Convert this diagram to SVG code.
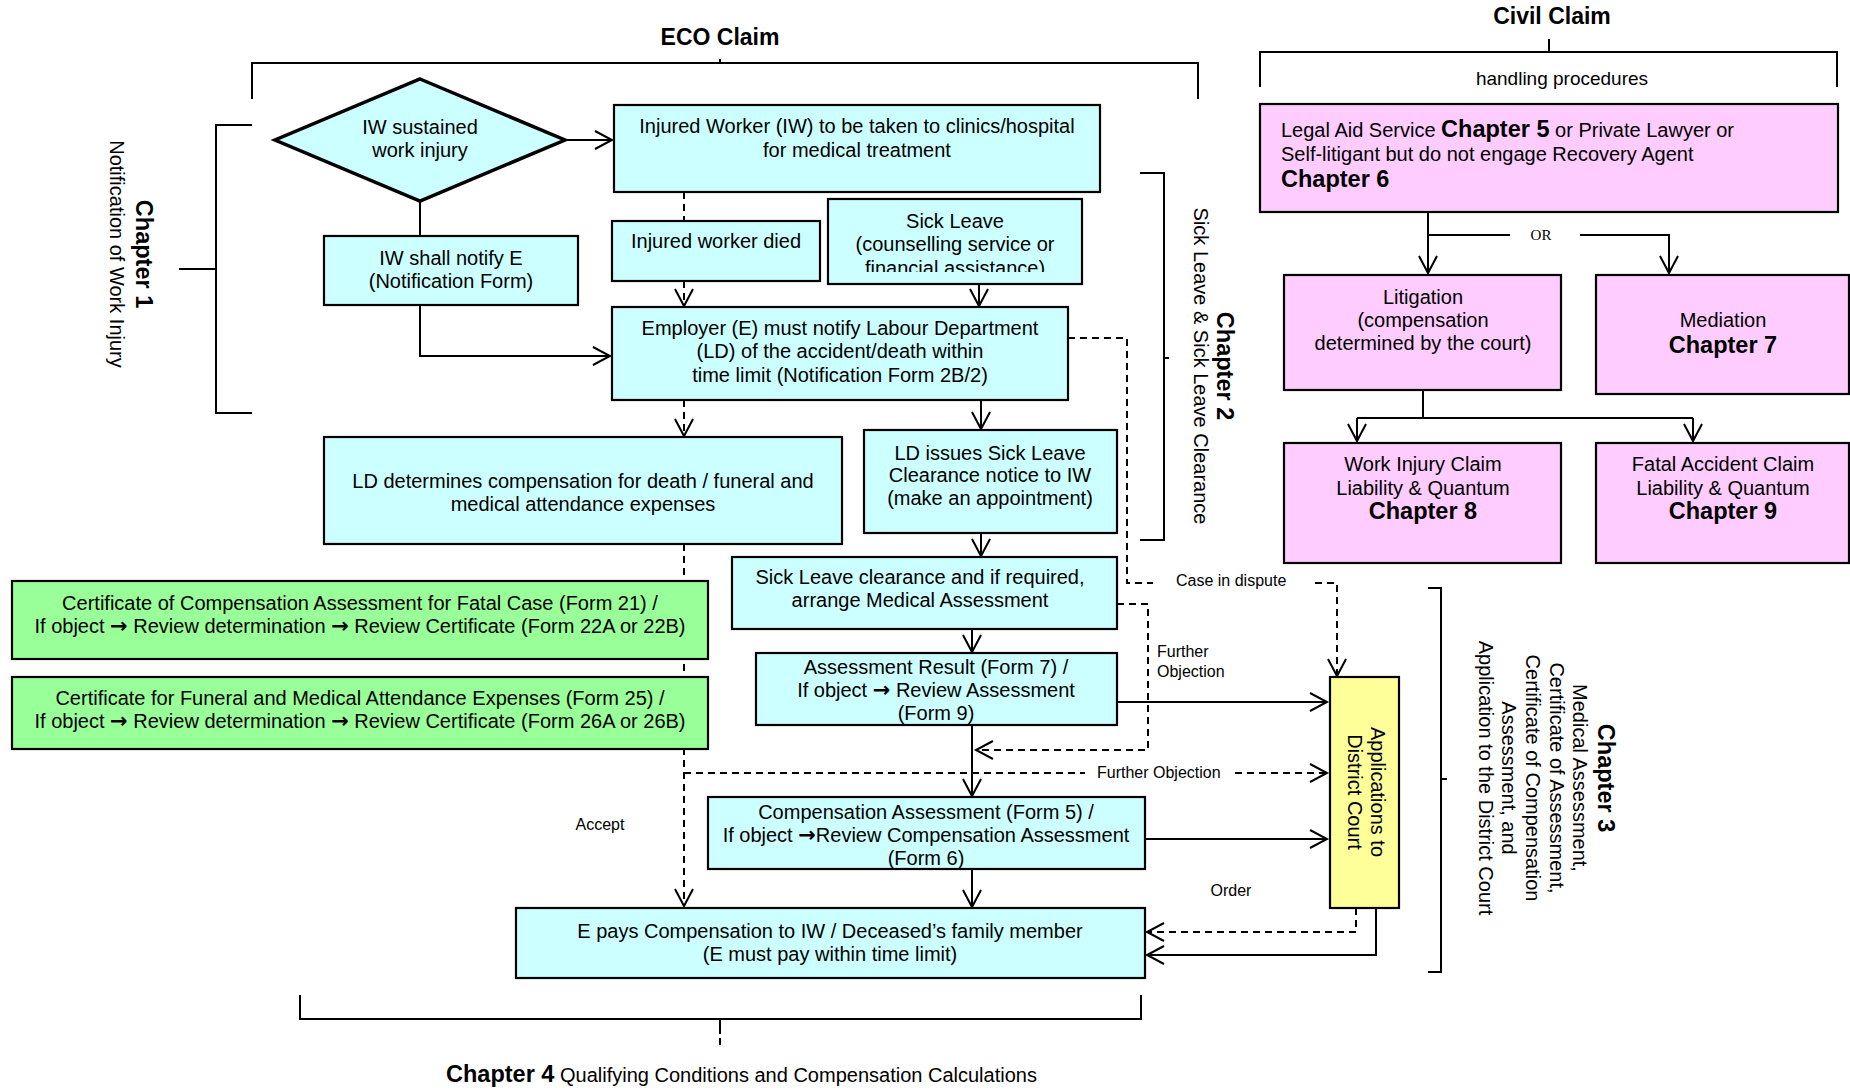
<svg xmlns="http://www.w3.org/2000/svg" width="1850" height="1090" viewBox="0 0 1850 1090">
<defs>
<style>
text{font-family:"Liberation Sans",Arial,sans-serif;font-size:20px;fill:#000}
.c{text-anchor:middle}
.b{font-weight:bold;font-size:23.5px}
.s{font-size:16px}
.ar{font-family:"DejaVu Sans",sans-serif;font-size:21px;font-weight:bold}
.or{font-family:"Liberation Serif","Times New Roman",serif;font-size:15px;text-anchor:middle}
.box{stroke:#000;stroke-width:2.2}
.cy{fill:#CCFFFF}
.gr{fill:#99FF99}
.pk{fill:#FFCCFF}
.ye{fill:#FFFF99}
.ln{fill:none;stroke:#000;stroke-width:2}
.da{stroke-dasharray:7,5}
.a{marker-end:url(#ah)}
</style>
<marker id="ah" markerUnits="userSpaceOnUse" markerWidth="24" markerHeight="24" viewBox="-20 -12 24 24" refX="0" refY="0" orient="auto">
<path d="M-17,-9 L0,0 L-17,9" fill="none" stroke="#000" stroke-width="2" stroke-dasharray="none"/>
</marker>
<clipPath id="clipSick"><rect x="828" y="199" width="254" height="73"/></clipPath>
</defs>
<rect width="1850" height="1090" fill="#fff"/>

<g id="brackets" class="ln">
<path d="M252,99 V63 H1198 V99"/>
<path d="M720,63 V59"/>
<path d="M252,125 H216 V413 H252 M216,269 H179"/>
<path d="M1140,173 H1164 V540 H1140 M1164,358 H1169"/>
<path d="M1428,588 H1441 V972 H1428 M1441,779 H1447"/>
<path d="M300,995 V1019 H1141 V995 M720,1019 V1034 M720,1038 V1045"/>
<path d="M1260,87 V52 H1837 V87 M1549,52 V39"/>
</g>

<g id="titles">
<text class="c" x="720" y="45" style="font-weight:bold;font-size:23px">ECO Claim</text>
<text class="c" x="1552" y="24" style="font-weight:bold;font-size:23px">Civil Claim</text>
<text class="c" x="1562" y="85" style="font-size:19px">handling procedures</text>
<text class="c" transform="translate(136,254) rotate(90)"><tspan x="0" y="0" class="b">Chapter 1</tspan><tspan x="0" y="26">Notification of Work Injury</tspan></text>
<text class="c" transform="translate(1217,366) rotate(90)"><tspan x="0" y="0" class="b">Chapter 2</tspan><tspan x="0" y="23">Sick Leave &amp; Sick Leave Clearance</tspan></text>
<text class="c" transform="translate(1598,778) rotate(90)"><tspan x="0" y="0" class="b">Chapter 3</tspan><tspan x="0" y="25">Medical Assessment,</tspan><tspan x="0" y="48">Certificate of Assessment,</tspan><tspan x="0" y="72">Certificate of Compensation</tspan><tspan x="0" y="96">Assessment, and</tspan><tspan x="0" y="119">Application to the District Court</tspan></text>
<text x="446" y="1082"><tspan class="b">Chapter 4</tspan> Qualifying Conditions and Compensation Calculations</text>
</g>

<g id="connectors">
<path class="ln a" d="M565,140 H612"/>
<path class="ln" d="M420,201 V236"/>
<path class="ln a" d="M420,305 V356 H610"/>
<path class="ln da" d="M684,192 V221"/>
<path class="ln da a" d="M684,281 V306"/>
<path class="ln a" d="M979,284 V306"/>
<path class="ln da a" d="M684,400 V436"/>
<path class="ln a" d="M981,400 V429"/>
<path class="ln da" d="M1068,338 H1127 V583 H1153"/>
<path class="ln da a" d="M1315,583 H1337 V676"/>
<path class="ln a" d="M981,533 V556"/>
<path class="ln a" d="M972,629 V652"/>
<path class="ln da a" d="M1117,604 H1148 V750 H976"/>
<path class="ln a" d="M1117,702 H1327"/>
<path class="ln a" d="M972,725 V796"/>
<path class="ln da a" d="M684,544 V906"/>
<path class="ln da" d="M684,773 H1085"/>
<path class="ln da a" d="M1235,773 H1327"/>
<path class="ln a" d="M1145,839 H1327"/>
<path class="ln a" d="M972,869 V907"/>
<path class="ln da a" d="M1356,908 V932 H1147"/>
<path class="ln a" d="M1376,908 V955 H1147"/>
<path class="ln a" d="M1428,212 V273"/>
<path class="ln" d="M1428,235 H1510"/>
<path class="ln a" d="M1580,235 H1669 V273"/>
<path class="ln" d="M1423,390 V418 M1357,418 H1693"/>
<path class="ln a" d="M1357,418 V441"/>
<path class="ln a" d="M1693,418 V441"/>
</g>

<g id="labels">
<text class="s" x="1176" y="586">Case in dispute</text>
<text class="s" x="1157" y="657">Further</text>
<text class="s" x="1157" y="677">Objection</text>
<text class="s" x="1097" y="778">Further Objection</text>
<text class="s c" x="600" y="830">Accept</text>
<text class="s c" x="1231" y="896">Order</text>
<text class="or" x="1541" y="240">OR</text>
</g>

<g id="n-injury">
<polygon points="420,79 565,140 420,201 275,140" class="cy" stroke="#000" stroke-width="3.5"/>
<text class="c" x="420" y="134">IW sustained</text>
<text class="c" x="420" y="157">work injury</text>
</g>
<g id="n-treatment">
<rect class="box cy" x="614" y="105" width="486" height="87"/>
<text class="c" x="857" y="133">Injured Worker (IW) to be taken to clinics/hospital</text>
<text class="c" x="857" y="157">for medical treatment</text>
</g>
<g id="n-notifyE">
<rect class="box cy" x="324" y="236" width="254" height="69"/>
<text class="c" x="451" y="265">IW shall notify E</text>
<text class="c" x="451" y="288">(Notification Form)</text>
</g>
<g id="n-died">
<rect class="box cy" x="612" y="221" width="208" height="60"/>
<text class="c" x="716" y="248">Injured worker died</text>
</g>
<g id="n-sickleave">
<rect class="box cy" x="828" y="199" width="254" height="85"/>
<g clip-path="url(#clipSick)">
<text class="c" x="955" y="228">Sick Leave</text>
<text class="c" x="955" y="251">(counselling service or</text>
<text class="c" x="955" y="275">financial assistance)</text>
</g>
</g>
<g id="n-employer">
<rect class="box cy" x="612" y="307" width="456" height="93"/>
<text class="c" x="840" y="335">Employer (E) must notify Labour Department</text>
<text class="c" x="840" y="358">(LD) of the accident/death within</text>
<text class="c" x="840" y="382">time limit (Notification Form 2B/2)</text>
</g>
<g id="n-lddetermines">
<rect class="box cy" x="324" y="437" width="518" height="107"/>
<text class="c" x="583" y="488">LD determines compensation for death / funeral and</text>
<text class="c" x="583" y="511">medical attendance expenses</text>
</g>
<g id="n-ldissues">
<rect class="box cy" x="864" y="430" width="253" height="103"/>
<text class="c" x="990" y="460">LD issues Sick Leave</text>
<text class="c" x="990" y="482">Clearance notice to IW</text>
<text class="c" x="990" y="505">(make an appointment)</text>
</g>
<g id="n-clearance">
<rect class="box cy" x="732" y="557" width="385" height="72"/>
<text class="c" x="920" y="584">Sick Leave clearance and if required,</text>
<text class="c" x="920" y="607">arrange Medical Assessment</text>
</g>
<g id="n-assessment">
<rect class="box cy" x="756" y="653" width="361" height="72"/>
<text class="c" x="936" y="674">Assessment Result (Form 7) /</text>
<text class="c" x="936" y="697">If object <tspan class="ar">→</tspan> Review Assessment</text>
<text class="c" x="936" y="720">(Form 9)</text>
</g>
<g id="n-form21">
<rect class="box gr" x="12" y="581" width="696" height="78"/>
<text class="c" x="360" y="610">Certificate of Compensation Assessment for Fatal Case (Form 21) /</text>
<text class="c" x="360" y="633">If object <tspan class="ar">→</tspan> Review determination <tspan class="ar">→</tspan> Review Certificate (Form 22A or 22B)</text>
</g>
<g id="n-form25">
<rect class="box gr" x="12" y="677" width="696" height="72"/>
<text class="c" x="360" y="705">Certificate for Funeral and Medical Attendance Expenses (Form 25) /</text>
<text class="c" x="360" y="728">If object <tspan class="ar">→</tspan> Review determination <tspan class="ar">→</tspan> Review Certificate (Form 26A or 26B)</text>
</g>
<g id="n-compensation">
<rect class="box cy" x="708" y="797" width="437" height="72"/>
<text class="c" x="926" y="819">Compensation Assessment (Form 5) /</text>
<text class="c" x="926" y="842">If object <tspan class="ar">→</tspan>Review Compensation Assessment</text>
<text class="c" x="926" y="865">(Form 6)</text>
</g>
<g id="n-pays">
<rect class="box cy" x="516" y="908" width="629" height="70"/>
<text class="c" x="830" y="938">E pays Compensation to IW / Deceased’s family member</text>
<text class="c" x="830" y="961">(E must pay within time limit)</text>
</g>
<g id="n-court">
<rect class="box ye" x="1330" y="677" width="69" height="231"/>
<text class="c" transform="translate(1371,792) rotate(90)"><tspan x="0" y="0">Applications to</tspan><tspan x="0" y="23">District Court</tspan></text>
</g>
<g id="n-legalaid">
<rect class="box pk" x="1260" y="104" width="578" height="108"/>
<text x="1281" y="137">Legal Aid Service <tspan class="b">Chapter 5</tspan> or Private Lawyer or</text>
<text x="1281" y="161">Self-litigant but do not engage Recovery Agent</text>
<text class="b" x="1281" y="187">Chapter 6</text>
</g>
<g id="n-litigation">
<rect class="box pk" x="1284" y="275" width="277" height="115"/>
<text class="c" x="1423" y="304">Litigation</text>
<text class="c" x="1423" y="327">(compensation</text>
<text class="c" x="1423" y="350">determined by the court)</text>
</g>
<g id="n-mediation">
<rect class="box pk" x="1596" y="275" width="253" height="119"/>
<text class="c" x="1723" y="327">Mediation</text>
<text class="c b" x="1723" y="353">Chapter 7</text>
</g>
<g id="n-workinjury">
<rect class="box pk" x="1284" y="443" width="277" height="120"/>
<text class="c" x="1423" y="471">Work Injury Claim</text>
<text class="c" x="1423" y="495">Liability &amp; Quantum</text>
<text class="c b" x="1423" y="519">Chapter 8</text>
</g>
<g id="n-fatal">
<rect class="box pk" x="1596" y="443" width="253" height="120"/>
<text class="c" x="1723" y="471">Fatal Accident Claim</text>
<text class="c" x="1723" y="495">Liability &amp; Quantum</text>
<text class="c b" x="1723" y="519">Chapter 9</text>
</g>
</svg>
